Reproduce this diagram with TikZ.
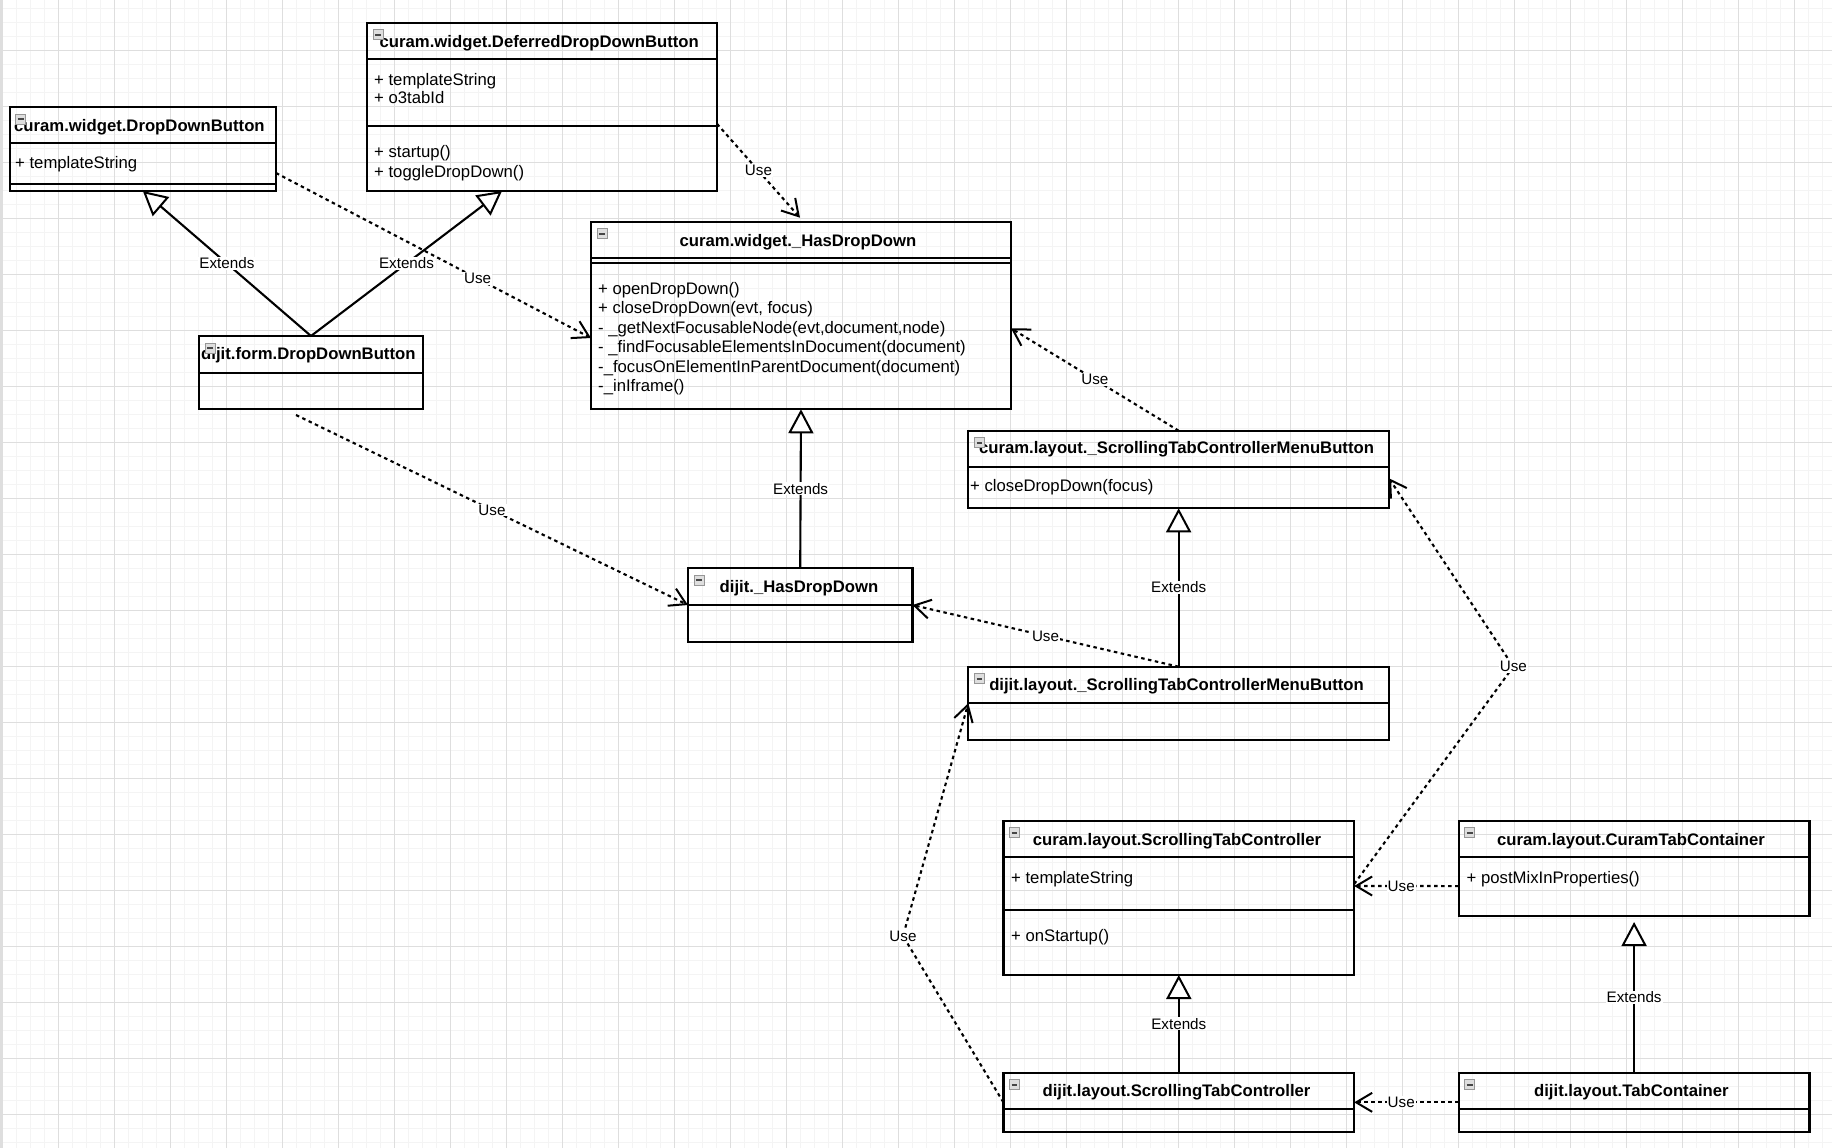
\documentclass[tikz,border=0pt]{standalone}
\usepackage{fontspec}
\setmainfont{Liberation Sans}
\usetikzlibrary{arrows.meta,calc}

\definecolor{gridminor}{RGB}{244,244,244}
\definecolor{gridmajor}{RGB}{222,222,222}
\definecolor{iconfill}{RGB}{222,222,222}
\definecolor{iconedge}{RGB}{150,150,150}
\definecolor{iconbar}{RGB}{70,70,70}

% one UML class frame: name, x, y (top left), width, height
\newcommand\classnode[5]{%
  \node[classbox, minimum width=#4, minimum height=#5] (#1) at (#2,#3) {};}
% compartment separator at a given distance below the top edge
\newcommand\sepat[2]{%
  \draw[sepline] ($(#1.north west)+(0,#2)$) -- ($(#1.north east)+(0,#2)$);}
% small collapse button in the top left corner of a class
\newcommand\collapseicon[1]{%
  \draw[iconbox] ($(#1.north west)+(6,7)$) rectangle ++(10,10);
  \draw[iconminus] ($(#1.north west)+(8.2,12)$) -- ++(5.6,0);}

\begin{document}
\begin{tikzpicture}[x=1pt,y=-1pt,
  classbox/.style={draw=black, line width=2.3pt, anchor=north west, inner sep=0pt, outer sep=0pt},
  sepline/.style={line width=2.2pt},
  title/.style={font=\fontsize{16.7}{20}\selectfont\bfseries, inner sep=0pt, anchor=base},
  ltitle/.style={title, anchor=base west},
  member/.style={font=\fontsize{16.7}{20}\selectfont, inner sep=0pt, anchor=base west},
  extends/.style={line width=2.1pt, -{Triangle[length=24pt,width=25pt,fill=white,line width=2pt]}},
  uses/.style={line width=2.1pt, dash pattern=on 3.5pt off 3.5pt, -{Straight Barb[length=16pt,width=19pt,line width=2pt]}},
  lbl/.style={font=\fontsize{15.2}{18}\selectfont, fill=white, inner sep=1pt},
  iconbox/.style={draw=iconedge, fill=iconfill, line width=0.8pt},
  iconminus/.style={draw=iconbar, line width=2pt},
  minorline/.style={draw=gridminor, line width=1.4pt},
  majorline/.style={draw=gridmajor, line width=1pt}]

\useasboundingbox (0,0) rectangle (1832,1148);
\fill[white] (0,0) rectangle (1832,1148);

% background grid
\begin{scope}
  \clip (0,0) rectangle (1832,1148);
  \foreach \i in {0,...,131} \draw[minorline] ({2.3+14*\i},0) -- ({2.3+14*\i},1148);
  \foreach \j in {0,...,82} \draw[minorline] (0,{8.3+14*\j}) -- (1832,{8.3+14*\j});
  \foreach \i in {0,...,32} \draw[majorline] ({2.3+56*\i},0) -- ({2.3+56*\i},1148);
  \foreach \j in {-1,...,20} \draw[majorline] (0,{50.3+56*\j}) -- (1832,{50.3+56*\j});
  \fill[gridmajor] (0,0) rectangle (2,1148);
\end{scope}

% ---------- classes ----------
\classnode{ddb}{9.7}{107}{266.3}{84}
\sepat{ddb}{36.3}\sepat{ddb}{77.3}
\node[ltitle] (ddbt) at (14,131.3) {curam.widget.DropDownButton};
\node[member] (ddba) at (15,168.5) {+ templateString};

\classnode{dddb}{367}{22.7}{350}{168.3}
\sepat{dddb}{36.6}\sepat{dddb}{103.3}
\node[ltitle] (dddbt) at (379.5,47.7) {curam.widget.DeferredDropDownButton};
\node[member] (dddba) at (374,85) {+ templateString};
\node[member] (dddbb) at (374,103.7) {+ o3tabId};
\node[member] (dddbc) at (374,157) {+ startup()};
\node[member] (dddbd) at (374,177) {+ toggleDropDown()};

\classnode{fddb}{199}{336}{224}{73}
\sepat{fddb}{36.7}
\node[ltitle] (fddbt) at (201,359.3) {dijit.form.DropDownButton};

\classnode{whdd}{591}{221.7}{420}{187.6}
\sepat{whdd}{36.6}\sepat{whdd}{41.6}
\node[title] (whddt) at (798,246.7) {curam.widget.\_HasDropDown};
\node[member] (whdda) at (598,294.3) {+ openDropDown()};
\node[member] (whddb) at (598,313.8) {+ closeDropDown(evt, focus)};
\node[member] (whddc) at (598,333.3) {- \_getNextFocusableNode(evt,document,node)};
\node[member] (whddd) at (598,352.8) {- \_findFocusableElementsInDocument(document)};
\node[member] (whdde) at (598,372.3) {-\_focusOnElementInParentDocument(document)};
\node[member] (whddf) at (598,391.8) {-\_inIframe()};

\classnode{dhdd}{688}{568.3}{224.4}{73.4}
\sepat{dhdd}{36.7}
\node[title] (dhddt) at (799,592.7) {dijit.\_HasDropDown};

\classnode{clm}{968.3}{430.7}{420.7}{77.6}
\sepat{clm}{36}
\node[title] (clmt) at (1176.5,453.3) {curam.layout.\_ScrollingTabControllerMenuButton};
\node[member] (clma) at (970,491) {+ closeDropDown(focus)};

\classnode{dlm}{968.3}{666.7}{420.7}{73}
\sepat{dlm}{36.6}
\node[title] (dlmt) at (1176.5,690.3) {dijit.layout.\_ScrollingTabControllerMenuButton};

\classnode{cstc}{1003.4}{820.7}{350.8}{154.3}
\sepat{cstc}{36.6}\sepat{cstc}{89.3}
\node[title] (cstct) at (1177,845.3) {curam.layout.ScrollingTabController};
\node[member] (cstca) at (1011,883.3) {+ templateString};
\node[member] (cstcb) at (1011,941) {+ onStartup()};

\classnode{ctc}{1458.7}{820.7}{350.8}{95.3}
\sepat{ctc}{36.6}
\node[title] (ctct) at (1631,845.3) {curam.layout.CuramTabContainer};
\node[member] (ctca) at (1466.5,883) {+ postMixInProperties()};

\classnode{dstc}{1003.4}{1072.7}{350.8}{59.3}
\sepat{dstc}{36.6}
\node[title] (dstct) at (1176.5,1096) {dijit.layout.ScrollingTabController};

\classnode{dtc}{1458.7}{1072.7}{350.8}{59.3}
\sepat{dtc}{36.6}
\node[title] (dtct) at (1631.4,1096) {dijit.layout.TabContainer};

\foreach \c in {ddb,dddb,fddb,whdd,dhdd,clm,dlm,cstc,ctc,dstc,dtc} {\collapseicon{\c}}

% ---------- generalisations ----------
\draw[extends] (fddb.north) -- node[lbl] (e1) {Extends} (ddb.south);
\draw[extends] (fddb.north) -- node[lbl] (e2) {Extends} ([xshift=-40pt]dddb.south);
\draw[extends] (dhdd.north) -- node[lbl] (e3) {Extends} (whdd.south);
\draw[extends] (dlm.north) -- node[lbl] (e4) {Extends} (clm.south);
\draw[extends] (dstc.north) -- node[lbl] (e5) {Extends} (cstc.south);
\draw[extends] (dtc.north) -- node[lbl] (e6) {Extends} ([yshift=-6pt]ctc.south);

% ---------- dependencies ----------
\draw[uses] ([yshift=-24pt]ddb.east) -- node[lbl,pos=0.64] (u1) {Use} ([yshift=-22.5pt]whdd.west);
\draw[uses] ([yshift=-17pt]dddb.east) -- node[lbl] (u2) {Use} ([xshift=-1pt,yshift=4pt]whdd.north);
\draw[uses] ([xshift=-15pt,yshift=-6pt]fddb.south) -- node[lbl] (u3) {Use} (dhdd.west);
\draw[uses] (dlm.north) -- node[lbl] (u4) {Use} (dhdd.east);
\draw[uses] (clm.north) -- node[lbl] (u5) {Use} ([yshift=-12.8pt]whdd.east);
\draw[uses] ([yshift=-17.7pt]ctc.west) -- node[lbl,pos=0.55] (u6) {Use} ([yshift=11.85pt]cstc.east);
\draw[uses] (dtc.west) -- node[lbl,pos=0.55] (u7) {Use} (dstc.east);
\coordinate (u8bend) at (903,936);
\draw[uses] (dstc.west) -- (u8bend) node[lbl] (u8) {Use} -- (dlm.west);
\coordinate (u9bend) at (1513.3,666.7);
\draw[uses] ([yshift=13.85pt]cstc.east) -- (u9bend) node[lbl] (u9) {Use} -- ([yshift=-8.8pt]clm.east);

\end{tikzpicture}
\end{document}
